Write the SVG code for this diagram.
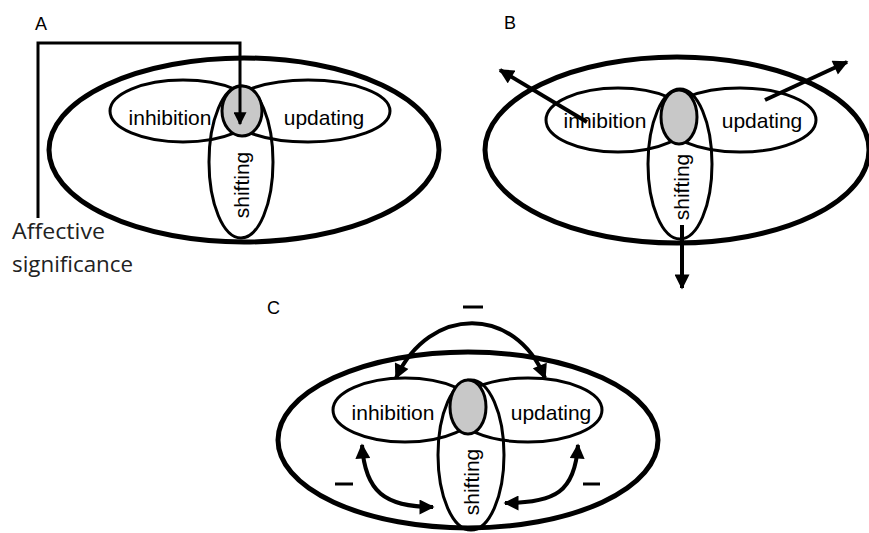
<svg xmlns="http://www.w3.org/2000/svg" width="869" height="533" viewBox="0 0 869 533">
<defs>
<marker id="ah" viewBox="0 0 10 10" refX="9" refY="5" markerWidth="16" markerHeight="15" markerUnits="userSpaceOnUse" orient="auto-start-reverse"><path d="M0,0 L10,5 L0,10 z" fill="#000"/></marker>
<marker id="ahs" viewBox="0 0 10 10" refX="9" refY="5" markerWidth="17" markerHeight="13" markerUnits="userSpaceOnUse" orient="auto"><path d="M0,0 L10,5 L0,10 z" fill="#000"/></marker>
</defs>
<style>
.outer{fill:none;stroke:#000;stroke-width:5}
.inner{fill:none;stroke:#000;stroke-width:3}
.core{fill:#c8c8c8;stroke:#000;stroke-width:3}
.lbl{font-family:"Liberation Sans",Arial,sans-serif;font-size:21px;fill:#000;text-anchor:middle}
.pl{font-family:"Liberation Sans",Arial,sans-serif;font-size:18px;fill:#000}
.aff{font-family:"Open Sans","Noto Sans",sans-serif;font-size:21px;fill:#222}
.arr{fill:none;stroke:#000;stroke-width:4}
.dash{stroke:#000;stroke-width:3}
</style>
<rect width="869" height="533" fill="#fff"/>

<text class="pl" x="35" y="30">A</text>
<text class="pl" x="504" y="29">B</text>
<text class="pl" x="267" y="314">C</text>

<!-- Panel A -->
<g id="A-outer"><ellipse class="outer" cx="244" cy="150" rx="195" ry="92"/></g>
<g id="A-inhibition"><ellipse class="inner" cx="183" cy="111" rx="73" ry="31"/><text class="lbl" x="170" y="125">inhibition</text></g>
<g id="A-updating"><ellipse class="inner" cx="308" cy="111" rx="82" ry="31"/><text class="lbl" x="324" y="125">updating</text></g>
<g id="A-shifting"><ellipse class="inner" cx="241" cy="162" rx="32" ry="76"/><text class="lbl" x="242" y="192" transform="rotate(-90 242 185)">shifting</text></g>
<g id="A-core"><ellipse class="core" cx="242" cy="111" rx="20" ry="25"/></g>
<g id="A-affective"><text class="aff" x="12" y="239" textLength="93" lengthAdjust="spacingAndGlyphs">Affective</text><text class="aff" x="12" y="272" textLength="121" lengthAdjust="spacingAndGlyphs">significance</text></g>

<!-- Panel B -->
<g id="B-outer"><ellipse class="outer" cx="677" cy="150" rx="192" ry="93"/></g>
<g id="B-inhibition"><ellipse class="inner" cx="618" cy="120" rx="72" ry="32"/><text class="lbl" x="605" y="128">inhibition</text></g>
<g id="B-updating"><ellipse class="inner" cx="740" cy="120" rx="76" ry="32"/><text class="lbl" x="762" y="128">updating</text></g>
<g id="B-shifting"><ellipse class="inner" cx="680" cy="164" rx="32" ry="75"/><text class="lbl" x="682" y="194" transform="rotate(-90 682 187)">shifting</text></g>
<g id="B-core"><ellipse class="core" cx="679" cy="117" rx="18" ry="27"/></g>

<!-- Panel C -->
<g id="C-outer"><ellipse class="outer" cx="468" cy="440" rx="190" ry="88"/></g>
<g id="C-inhibition"><ellipse class="inner" cx="405" cy="410" rx="72" ry="32"/><text class="lbl" x="393" y="420">inhibition</text></g>
<g id="C-updating"><ellipse class="inner" cx="528" cy="410" rx="74" ry="32"/><text class="lbl" x="551" y="420">updating</text></g>
<g id="C-shifting"><ellipse class="inner" cx="471" cy="455" rx="33" ry="75"/><text class="lbl" x="472" y="489" transform="rotate(-90 472 482)">shifting</text></g>
<g id="C-core"><ellipse class="core" cx="468" cy="407" rx="18" ry="27"/></g>

<g id="connectors">
<path d="M38,218 V43 H240 V124" fill="none" stroke="#000" stroke-width="3" marker-end="url(#ahs)"/>
<path class="arr" d="M587,122 L500,70" marker-end="url(#ah)"/>
<path class="arr" d="M765,100 L847,62" marker-end="url(#ah)"/>
<path class="arr" d="M682,225 L682,288" marker-end="url(#ah)"/>
<path class="arr" d="M396,378 C430,305 515,305 545,378" marker-start="url(#ah)" marker-end="url(#ah)"/>
<path class="arr" d="M362,445 C365,492 385,507 433,507" marker-start="url(#ah)" marker-end="url(#ah)"/>
<path class="arr" d="M578,445 C575,492 555,503 505,503" marker-start="url(#ah)" marker-end="url(#ah)"/>
<line class="dash" x1="463" y1="307" x2="483" y2="307"/>
<line class="dash" x1="335" y1="484" x2="353" y2="484"/>
<line class="dash" x1="583" y1="484" x2="600" y2="484"/>
</g>
</svg>
